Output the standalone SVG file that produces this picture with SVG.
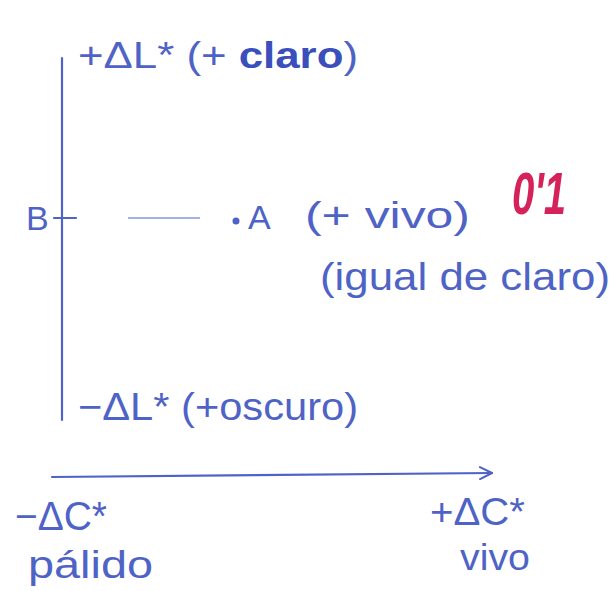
<svg xmlns="http://www.w3.org/2000/svg" width="614" height="591" viewBox="0 0 614 591">
  <defs>
    <style>
      .ink { fill: #4f63c6; font-family: "Liberation Sans", "DejaVu Sans", sans-serif; }
      .bold { font-weight: bold; fill: #3a4fbb; }
      .red { fill: #d6225a; font-family: "Liberation Sans", "DejaVu Sans", sans-serif; font-weight: bold; }
      .line { stroke: #4f63c6; stroke-width: 2.2; fill: none; stroke-linecap: round; }
      .faint { stroke: #8a98d8; stroke-width: 1.6; fill: none; }
    </style>
    <marker id="arrow" markerWidth="16" markerHeight="14" refX="14" refY="7" orient="auto" markerUnits="userSpaceOnUse">
      <path d="M2,1 L14,7 L2,13" fill="none" stroke="#4f63c6" stroke-width="2" stroke-linecap="round" stroke-linejoin="round"/>
    </marker>
  </defs>
  <rect width="614" height="591" fill="#ffffff"/>

  <g id="connectors">
    <line class="line" x1="62" y1="58" x2="62" y2="420"/>
    <line class="line" x1="52" y1="477" x2="492" y2="473" marker-end="url(#arrow)"/>
    <line class="faint" x1="128" y1="218" x2="200" y2="218"/>
  </g>

  <g id="top-label">
    <text class="ink" x="78" y="68" font-size="36" textLength="280" lengthAdjust="spacingAndGlyphs">+ΔL* (+ <tspan class="bold">claro</tspan>)</text>
  </g>

  <g id="B">
    <line class="line" x1="54" y1="218" x2="76" y2="218"/>
    <text class="ink" x="26" y="230" font-size="34">B</text>
  </g>

  <g id="A">
    <circle cx="236" cy="221" r="3.5" fill="#4f63c6"/>
    <text class="ink" x="248" y="229" font-size="34">A</text>
    <text class="ink" x="305" y="228" font-size="36" textLength="165" lengthAdjust="spacingAndGlyphs">(+ vivo)</text>
    <text class="ink" x="320" y="290" font-size="38" textLength="290" lengthAdjust="spacingAndGlyphs">(igual de claro)</text>
  </g>

  <g id="grade">
    <text class="red" x="512" y="214" font-size="60" font-style="italic" textLength="54" lengthAdjust="spacingAndGlyphs">0'1</text>
  </g>

  <g id="bottom-label">
    <text class="ink" x="78" y="420" font-size="38" textLength="280" lengthAdjust="spacingAndGlyphs">−ΔL* (+oscuro)</text>
  </g>

  <g id="left-label">
    <text class="ink" x="15" y="530" font-size="40" textLength="92" lengthAdjust="spacingAndGlyphs">−ΔC*</text>
    <text class="ink" x="28" y="578" font-size="38" textLength="125" lengthAdjust="spacingAndGlyphs">pálido</text>
  </g>

  <g id="right-label">
    <text class="ink" x="430" y="525" font-size="38" textLength="95" lengthAdjust="spacingAndGlyphs">+ΔC*</text>
    <text class="ink" x="460" y="570" font-size="36" textLength="70" lengthAdjust="spacingAndGlyphs">vivo</text>
  </g>
</svg>
